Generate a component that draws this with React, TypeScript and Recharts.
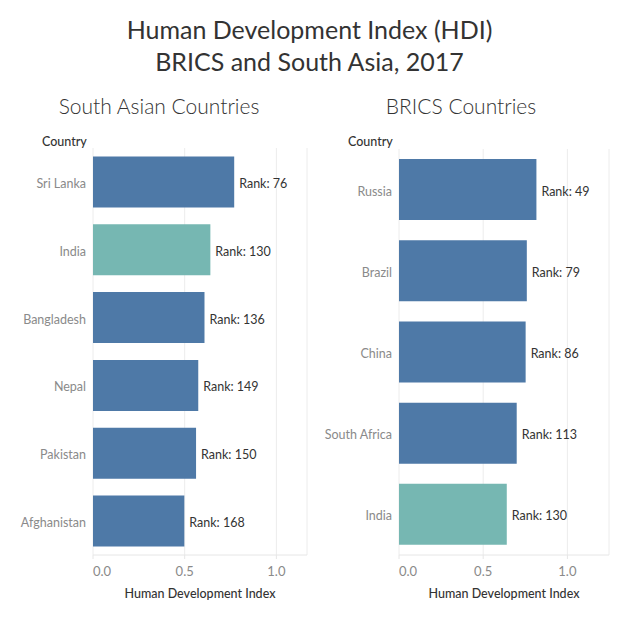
import { Bar, BarChart, CartesianGrid, Cell, LabelList, XAxis, YAxis } from 'recharts'

const FONT = 'Lato, "Open Sans", sans-serif'

const southAsiaCountries = ['Sri Lanka', 'India', 'Bangladesh', 'Nepal', 'Pakistan', 'Afghanistan']
const southAsiaHdi = [0.770, 0.640, 0.608, 0.574, 0.562, 0.498]
const southAsiaRank = [76, 130, 136, 149, 150, 168]

const bricsCountries = ['Russia', 'Brazil', 'China', 'South Africa', 'India']
const bricsHdi = [0.816, 0.759, 0.752, 0.699, 0.640]
const bricsRank = [49, 79, 86, 113, 130]

const hdiTicks = [0, 0.5, 1]

const BLUE = '#4e79a7'
const TEAL = '#76b7b2'

type Row = { country: string; hdi: number; rank: number }

function buildRows(countries: string[], hdi: number[], rank: number[]): Row[] {
  return countries.map((country, i) => ({ country, hdi: hdi[i], rank: rank[i] }))
}

function CategoryTick({ x, y, payload }: any) {
  return (
    <text x={x} y={y} dy={6} textAnchor="end" fill="#8a8a8a" fontSize={12.5} fontFamily={FONT}>
      {payload.value}
    </text>
  )
}

function ValueTick({ x, y, payload, index }: any) {
  return (
    <text
      x={x}
      y={y}
      dy={15}
      textAnchor={index === 0 ? 'start' : 'middle'}
      fill="#8a8a8a"
      fontSize={13}
      fontFamily={FONT}
    >
      {Number(payload.value).toFixed(1)}
    </text>
  )
}

function RankLabel({ x, y, width, height, value }: any) {
  return (
    <text x={x + width + 5} y={y + height / 2} dy={6} fill="#333" fontSize={12.5} fontFamily={FONT}>
      {`Rank: ${value}`}
    </text>
  )
}

function Panel({
  rows,
  width,
  domainMax,
  margin,
  yWidth,
}: {
  rows: Row[]
  width: number
  domainMax: number
  margin: { top: number; right: number; bottom: number; left: number }
  yWidth: number
}) {
  return (
    <BarChart
      width={width}
      height={619}
      data={rows}
      layout="vertical"
      margin={margin}
      barCategoryGap="12.4%"
    >
      <CartesianGrid horizontal={false} stroke="#ececec" />
      <XAxis
        type="number"
        dataKey="hdi"
        domain={[0, domainMax]}
        ticks={hdiTicks}
        allowDataOverflow
        height={50}
        axisLine={{ stroke: '#e6e6e6' }}
        tickLine={{ stroke: '#e6e6e6' }}
        tickSize={4}
        tick={<ValueTick />}
        label={{
          value: 'Human Development Index',
          position: 'insideBottom',
          offset: 7,
          fill: '#333',
          fontSize: 12.5,
          fontFamily: FONT,
          fontWeight: 500,
        }}
      />
      <YAxis
        type="category"
        dataKey="country"
        width={yWidth}
        axisLine={false}
        tickLine={false}
        tickSize={0}
        tickMargin={7}
        tick={<CategoryTick />}
      />
      <Bar dataKey="hdi" isAnimationActive={false}>
        {rows.map((r) => (
          <Cell key={r.country} fill={r.country === 'India' ? TEAL : BLUE} />
        ))}
        <LabelList dataKey="rank" content={<RankLabel />} />
      </Bar>
    </BarChart>
  )
}

export default function App() {
  const southRows = buildRows(southAsiaCountries, southAsiaHdi, southAsiaRank)
  const bricsRows = buildRows(bricsCountries, bricsHdi, bricsRank)

  return (
    <div
      style={{
        position: 'absolute',
        left: 0,
        top: 0,
        width: 619,
        height: 619,
        background: '#fff',
        fontFamily: FONT,
        color: '#333',
      }}
    >
      <div
        style={{
          position: 'absolute',
          top: 13,
          left: 0,
          width: 619,
          textAlign: 'center',
          fontSize: 25,
          lineHeight: '32px',
          color: '#333',
        }}
      >
        Human Development Index (HDI)
        <br />
        BRICS and South Asia, 2017
      </div>
      <div style={{ position: 'absolute', top: 93, left: 0, width: 318, textAlign: 'center', fontSize: 21, fontWeight: 300, color: '#333' }}>
        South Asian Countries
      </div>
      <div style={{ position: 'absolute', top: 93, left: 310, width: 302, textAlign: 'center', fontSize: 21, fontWeight: 300, color: '#333' }}>
        BRICS Countries
      </div>
      <div style={{ position: 'absolute', top: 134, left: 42, fontSize: 12.5, fontWeight: 500, color: '#333' }}>Country</div>
      <div style={{ position: 'absolute', top: 134, left: 348, fontSize: 12.5, fontWeight: 500, color: '#333' }}>Country</div>

      <div style={{ position: 'absolute', left: 0, top: 0 }}>
        <Panel
          rows={southRows}
          width={310}
          domainMax={1.167}
          yWidth={88}
          margin={{ top: 148, right: 3, bottom: 14, left: 5 }}
        />
      </div>
      <div style={{ position: 'absolute', left: 310, top: 0 }}>
        <Panel
          rows={bricsRows}
          width={309}
          domainMax={1.247}
          yWidth={84}
          margin={{ top: 149, right: 10, bottom: 14, left: 5 }}
        />
      </div>
    </div>
  )
}
